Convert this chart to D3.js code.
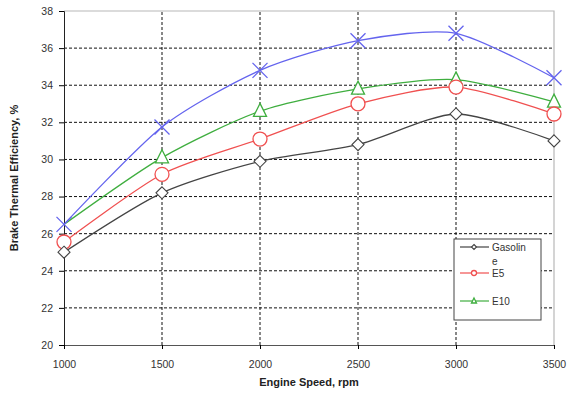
<!DOCTYPE html>
<html>
<head>
<meta charset="utf-8">
<script src="https://cdn.jsdelivr.net/npm/d3@7"></script>
<style>
  body { margin: 0; background: #fff; }
  svg { display: block; font-family: "Liberation Sans", Arial, sans-serif; }
</style>
</head>
<body>
<svg id="chart" width="569" height="393"></svg>
<script>
// engine speeds (rpm)
const speeds = [1000, 1500, 2000, 2500, 3000, 3500]

// brake thermal efficiency, %
const gasoline = [25.0, 28.2, 29.9, 30.8, 32.45, 31.0]
const e5 = [25.55, 29.2, 31.1, 33.0, 33.9, 32.45]
const e10 = [26.5, 30.1, 32.6, 33.8, 34.3, 33.1]
const e15 = [26.5, 31.75, 34.8, 36.4, 36.8, 34.4]

const xTicks = [1000, 1500, 2000, 2500, 3000, 3500]
const yTicks = [20, 22, 24, 26, 28, 30, 32, 34, 36, 38]

// e10 has no visible marker at 1000 rpm (sits under the blue cross)
const series = [
    {name: 'E10', values: e10, color: '#3fae3f', marker: 'tri', skip: [0]},
    {name: 'E5', values: e5, color: '#f05050', marker: 'circle', skip: []},
    {name: 'Gasoline', values: gasoline, color: '#444', marker: 'diamond', skip: []},
    {name: 'E15', values: e15, color: '#6464ee', marker: 'x', skip: []}
]

const margin = {left: 64, right: 15, top: 11, bottom: 48}
const width = 569, height = 393

const svg = d3.select('#chart')

const x = d3.scaleLinear().domain([1000, 3500]).range([margin.left, width - margin.right])
const y = d3.scaleLinear().domain([20, 38]).range([height - margin.bottom, margin.top])

// grid
let grid = svg.append('g')
grid.selectAll('line.h')
    .data(yTicks.filter(t => t > 20 && t < 38))
    .enter().append('line')
    .attr('x1', x(1000)).attr('x2', x(3500))
    .attr('y1', d => y(d)).attr('y2', d => y(d))
    .attr('stroke', '#111').attr('stroke-width', 1)
    .attr('stroke-dasharray', '3,2')
grid.selectAll('line.v')
    .data(xTicks.filter(t => t > 1000 && t < 3500))
    .enter().append('line')
    .attr('y1', y(20)).attr('y2', y(38))
    .attr('x1', d => x(d)).attr('x2', d => x(d))
    .attr('stroke', '#111').attr('stroke-width', 1)
    .attr('stroke-dasharray', '3,2')

// light frame top / right
svg.append('path')
    .attr('d', `M${x(1000)},${y(38)}H${x(3500)}V${y(20)}`)
    .attr('fill', 'none').attr('stroke', '#b8b8b8').attr('stroke-width', 1.2)

// axes
let yAxis = d3.axisLeft(y).tickValues(yTicks).tickSize(5).tickPadding(6).tickFormat(d3.format('d'))
let xAxis = d3.axisBottom(x).tickValues(xTicks).tickSize(4).tickPadding(12).tickFormat(d3.format('d'))

let gy = svg.append('g').attr('transform', `translate(${x(1000)},0)`).call(yAxis)
let gx = svg.append('g').attr('transform', `translate(0,${y(20)})`).call(xAxis)
gy.select('.domain').attr('stroke', '#222')
gx.select('.domain').attr('stroke', '#555')
;[gx, gy].forEach(g => g.selectAll('text').attr('font-size', 10.5).attr('fill', '#333')
    .attr('font-family', '"Liberation Sans", Arial, sans-serif'))

// axis titles
svg.append('text')
    .attr('x', (x(1000) + x(3500)) / 2).attr('y', 386)
    .attr('text-anchor', 'middle').attr('font-size', 11).attr('font-weight', 'bold').attr('fill', '#222')
    .text('Engine Speed, rpm')
svg.append('text')
    .attr('transform', `translate(18,${(y(20) + y(38)) / 2}) rotate(-90)`)
    .attr('text-anchor', 'middle').attr('font-size', 11).attr('font-weight', 'bold').attr('fill', '#222')
    .text('Brake Thermal Efficiency, %')

// lines
let line = d3.line()
    .x((d, i) => x(speeds[i]))
    .y(d => y(d))
    .curve(d3.curveCardinal.tension(0.25))

svg.append('g').selectAll('path')
    .data(series)
    .enter().append('path')
    .attr('d', d => line(d.values))
    .attr('fill', 'none')
    .attr('stroke', d => d.color)
    .attr('stroke-width', 1.3)

function drawMarker(g, type, color, s) {
    if (type === 'x') {
        g.append('path').attr('d', `M${-s},${-s}L${s},${s}M${-s},${s}L${s},${-s}`)
            .attr('stroke', color).attr('stroke-width', 1.3).attr('fill', 'none')
    } else if (type === 'circle') {
        g.append('circle').attr('r', s).attr('fill', '#fff').attr('stroke', color).attr('stroke-width', 1.3)
    } else if (type === 'tri') {
        g.append('path').attr('d', `M0,${-s * 1.2}L${s},${s * 0.8}L${-s},${s * 0.8}Z`)
            .attr('fill', '#fff').attr('stroke', color).attr('stroke-width', 1.3)
    } else {
        g.append('path').attr('d', `M0,${-s}L${s},0L0,${s}L${-s},0Z`)
            .attr('fill', '#fff').attr('stroke', color).attr('stroke-width', 1.1)
    }
}

let sizes = {x: 7.5, circle: 7, tri: 6.5, diamond: 6}
series.forEach(sr => {
    sr.values.forEach((v, i) => {
        if (sr.skip.includes(i)) return
        let g = svg.append('g').attr('transform', `translate(${x(speeds[i])},${y(v)})`)
        drawMarker(g, sr.marker, sr.color, sizes[sr.marker])
    })
})

// legend
let leg = svg.append('g').attr('transform', 'translate(454,239)')
leg.append('rect').attr('width', 87).attr('height', 81)
    .attr('fill', '#fff').attr('stroke', '#444').attr('stroke-width', 1)
let legItems = [
    {label: ['Gasolin', 'e'], color: '#444', marker: 'diamond', ly: 8},
    {label: ['E5'], color: '#f05050', marker: 'circle', ly: 34},
    {label: ['E10'], color: '#3fae3f', marker: 'tri', ly: 62}
]
legItems.forEach(it => {
    let g = leg.append('g').attr('transform', `translate(0,${it.ly})`)
    g.append('line').attr('x1', 6).attr('x2', 35).attr('stroke', it.color).attr('stroke-width', 1.2)
    let m = g.append('g').attr('transform', 'translate(20,0)')
    drawMarker(m, it.marker, it.color, 2.5)
    it.label.forEach((t, k) => {
        g.append('text').attr('x', 38).attr('y', 4 + k * 14)
            .attr('font-size', 10).attr('fill', '#333').text(t)
    })
})
</script>
</body>
</html>
